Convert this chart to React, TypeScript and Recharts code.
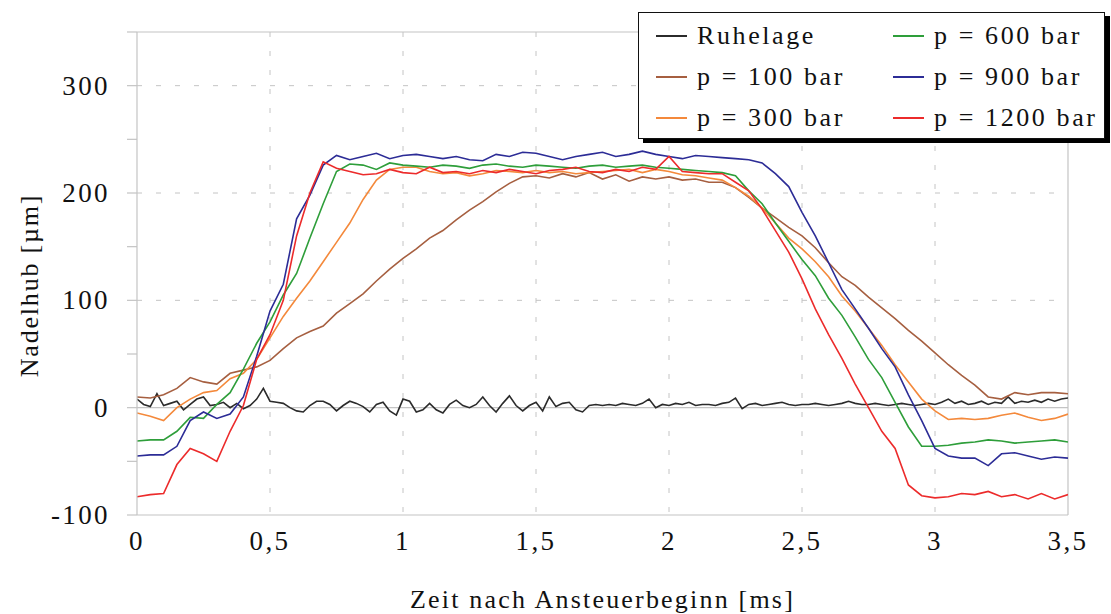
import React from 'react';
import { LineChart, Line, XAxis, YAxis, CartesianGrid, ReferenceLine, Legend } from 'recharts';

const FONT = '"Liberation Serif", "Times New Roman", serif';

// time axis in ms, 0.05 ms steps for the pressure runs
const time = [
  0, 0.05, 0.1, 0.15, 0.2, 0.25, 0.3, 0.35, 0.4, 0.45,
  0.5, 0.55, 0.6, 0.65, 0.7, 0.75, 0.8, 0.85, 0.9, 0.95,
  1, 1.05, 1.1, 1.15, 1.2, 1.25, 1.3, 1.35, 1.4, 1.45,
  1.5, 1.55, 1.6, 1.65, 1.7, 1.75, 1.8, 1.85, 1.9, 1.95,
  2, 2.05, 2.1, 2.15, 2.2, 2.25, 2.3, 2.35, 2.4, 2.45,
  2.5, 2.55, 2.6, 2.65, 2.7, 2.75, 2.8, 2.85, 2.9, 2.95,
  3, 3.05, 3.1, 3.15, 3.2, 3.25, 3.3, 3.35, 3.4, 3.45,
  3.5,
];

// finer sampling for the rest position signal
const restTime = [
  0, 0.025, 0.05, 0.075, 0.1, 0.125, 0.15, 0.175, 0.2, 0.225, 0.25, 0.275, 0.3, 0.325, 0.35, 0.375, 0.4, 0.425, 0.45, 0.475,
  0.5, 0.525, 0.55, 0.575, 0.6, 0.625, 0.65, 0.675, 0.7, 0.725, 0.75, 0.775, 0.8, 0.825, 0.85, 0.875, 0.9, 0.925, 0.95, 0.975,
  1, 1.025, 1.05, 1.075, 1.1, 1.125, 1.15, 1.175, 1.2, 1.225, 1.25, 1.275, 1.3, 1.325, 1.35, 1.375, 1.4, 1.425, 1.45, 1.475,
  1.5, 1.525, 1.55, 1.575, 1.6, 1.625, 1.65, 1.675, 1.7, 1.725, 1.75, 1.775, 1.8, 1.825, 1.85, 1.875, 1.9, 1.925, 1.95, 1.975,
  2, 2.025, 2.05, 2.075, 2.1, 2.125, 2.15, 2.175, 2.2, 2.225, 2.25, 2.275, 2.3, 2.325, 2.35, 2.375, 2.4, 2.425, 2.45, 2.475,
  2.5, 2.525, 2.55, 2.575, 2.6, 2.625, 2.65, 2.675, 2.7, 2.725, 2.75, 2.775, 2.8, 2.825, 2.85, 2.875, 2.9, 2.925, 2.95, 2.975,
  3, 3.025, 3.05, 3.075, 3.1, 3.125, 3.15, 3.175, 3.2, 3.225, 3.25, 3.275, 3.3, 3.325, 3.35, 3.375, 3.4, 3.425, 3.45, 3.475,
  3.5,
];

const ruhelage = [
  8, 3, 1, 13, 2, 4, 6, -2, 3, 8, 10, 2, 3, 5, 0, 4, -1, 2, 8, 18,
  6, 5, 4, 0, -3, -4, 2, 6, 6, 3, -3, 2, 6, 4, 1, -4, 3, 5, -3, -7,
  8, 6, -4, -2, 4, -2, -5, 3, 7, 2, 0, 3, 10, 2, -4, 4, 11, 2, -3, 2,
  5, -3, 10, 1, 4, 5, -2, -4, 2, 3, 2, 3, 2, 4, 3, 2, 4, 8, 0, 3,
  2, 4, 3, 5, 2, 3, 3, 2, 4, 5, 9, -1, 3, 4, 2, 3, 4, 5, 3, 2,
  3, 3, 4, 3, 2, 3, 4, 6, 4, 3, 3, 4, 3, 2, 3, 4, 3, 2, 3, 4,
  3, 5, 8, 4, 6, 3, 4, 6, 3, 5, 4, 10, 4, 6, 5, 7, 5, 8, 6, 8,
  9,
];

const p100 = [
  10, 9, 12, 18, 28, 24, 22, 32, 35, 38,
  44, 55, 65, 71, 76, 88, 97, 106, 118, 129,
  139, 148, 158, 165, 175, 184, 192, 201, 209, 215,
  216, 214, 218, 215, 219, 213, 217, 211, 215, 213,
  215, 212, 213, 210, 210, 205, 196, 186, 177, 168,
  160, 149, 135, 122, 114, 103, 93, 83, 72, 62,
  51, 40, 30, 21, 10, 8, 14, 12, 14, 14,
  13,
];

const p300 = [
  -5, -8, -12, 0, 8, 14, 16, 27, 32, 45,
  65, 85, 102, 118, 136, 154, 172, 194, 212, 222,
  224, 224, 220, 218, 219, 216, 218, 221, 220, 219,
  221, 219, 220, 218, 219, 220, 221, 222, 219, 222,
  220, 217, 216, 214, 212, 205, 197, 186, 172, 158,
  148, 136, 122, 104, 90, 74, 58, 40, 24, 8,
  -3, -11, -10, -11, -10, -7, -5, -9, -12, -10,
  -6,
];

const p600 = [
  -31, -30, -30, -22, -9, -10, 3, 14, 36, 60,
  80, 105, 125, 158, 190, 220, 227, 226, 222, 228,
  226, 225, 224, 226, 225, 223, 226, 227, 225, 224,
  226, 225, 224, 223, 225, 226, 224, 225, 226, 224,
  223, 222, 221, 220, 219, 216, 202, 190, 172, 155,
  138, 123, 102, 86, 66, 45, 28, 5, -18, -36,
  -36, -35, -33, -32, -30, -31, -33, -32, -31, -30,
  -32,
];

const p900 = [
  -45, -44, -44, -36, -12, -4, -10, -6, 10, 48,
  90, 115, 176, 198, 226, 235, 231, 234, 237, 232,
  235, 236, 234, 232, 234, 231, 230, 236, 234, 238,
  237, 234, 231, 234, 236, 238, 234, 236, 239, 236,
  234, 232, 235, 234, 233, 232, 231, 228, 218, 206,
  182, 160, 135, 110, 92, 74, 55, 38, 12, -12,
  -38, -45, -47, -47, -54, -43, -42, -45, -48, -46,
  -47,
];

const p1200 = [
  -83, -81, -80, -53, -38, -43, -50, -22, 2, 45,
  68, 100, 160, 200, 229, 223, 220, 217, 218, 222,
  219, 218, 224, 219, 220, 218, 221, 219, 222, 220,
  218, 221, 222, 224, 220, 219, 222, 220, 224, 222,
  234, 220, 219, 218, 218, 210, 202, 185, 165, 145,
  120, 92, 68, 46, 22, 0, -22, -38, -72, -82,
  -84, -83, -80, -81, -78, -83, -81, -85, -80, -85,
  -81,
];

const yTicks = [-100, -50, 0, 50, 100, 150, 200, 250, 300, 350];
const yLabels = [-100, 0, 100, 200, 300];
const xTicks = [0, 0.5, 1, 1.5, 2, 2.5, 3, 3.5];

const toRows = (xs: number[], ys: number[]) => xs.map((t, i) => ({ t, v: ys[i] }));

const series = [
  { name: 'Ruhelage', color: '#2b2b2b', rows: toRows(restTime, ruhelage) },
  { name: 'p = 100 bar', color: '#a65f40', rows: toRows(time, p100) },
  { name: 'p = 300 bar', color: '#f4893b', rows: toRows(time, p300) },
  { name: 'p = 600 bar', color: '#2e9e3a', rows: toRows(time, p600) },
  { name: 'p = 900 bar', color: '#2c2c96', rows: toRows(time, p900) },
  { name: 'p = 1200 bar', color: '#ec2b2b', rows: toRows(time, p1200) },
];

const AXIS_GREY = '#c4c4c4';
const textStyle = { fontFamily: FONT, fontSize: 27, letterSpacing: 2.4, fill: '#111' };

const YTick = ({ x, y, payload }: any) => {
  if (!yLabels.includes(payload.value)) return <g />;
  return (
    <text x={x} y={y} dy={9} textAnchor="end" style={textStyle}>
      {payload.value}
    </text>
  );
};

const XTick = ({ x, y, payload }: any) => (
  <text x={x} y={y + 35} textAnchor="middle" style={textStyle}>
    {String(payload.value).replace('.', ',')}
  </text>
);

const YTitle = ({ viewBox }: any) => {
  const cx = viewBox.x + 29;
  const cy = viewBox.y + viewBox.height / 2 + 12;
  return (
    <text
      x={cx}
      y={cy}
      transform={`rotate(-90 ${cx} ${cy})`}
      textAnchor="middle"
      dominantBaseline="central"
      style={{ ...textStyle, fontSize: 26, letterSpacing: 1.8 }}
    >
      Nadelhub [µm]
    </text>
  );
};

const XTitle = ({ viewBox }: any) => (
  <text
    x={viewBox.x + viewBox.width / 2}
    y={viewBox.y + 93}
    textAnchor="middle"
    style={{ ...textStyle, fontSize: 26, letterSpacing: 2.2 }}
  >
    Zeit nach Ansteuerbeginn [ms]
  </text>
);

// boxed legend, two columns of three, with a hard drop shadow
const renderLegend = () => (
  <div
    style={{
      position: 'relative',
      width: 467,
      height: 127,
      boxSizing: 'border-box',
      border: '1.5px solid #111',
      boxShadow: '5px 4px 0 #000',
      background: '#fff',
      fontFamily: FONT,
      fontSize: 26,
      letterSpacing: 2.6,
      color: '#111',
    }}
  >
    {series.map((s, i) => (
      <div
        key={s.name}
        style={{
          position: 'absolute',
          left: Math.floor(i / 3) * 237 + 17,
          top: (i % 3) * 41 + 2,
          height: 41,
          display: 'flex',
          alignItems: 'center',
          whiteSpace: 'nowrap',
        }}
      >
        <svg width={31} height={4} style={{ marginRight: 10 }}>
          <line x1={0} y1={2} x2={31} y2={2} stroke={s.color} strokeWidth={2} />
        </svg>
        <span>{s.name}</span>
      </div>
    ))}
  </div>
);

export default function App() {
  return (
    <div style={{ position: 'absolute', left: 0, top: 0 }}>
      <LineChart width={1111} height={614} margin={{ top: 32, right: 43, bottom: 0, left: 0 }}>
        <CartesianGrid
          horizontal
          vertical
          horizontalValues={[100, 200, 300]}
          verticalValues={[0.5, 1, 1.5, 2, 2.5, 3]}
          stroke={AXIS_GREY}
          strokeDasharray="5 14"
        />
        <XAxis
          dataKey="t"
          type="number"
          domain={[0, 3.5]}
          ticks={xTicks}
          allowDataOverflow
          axisLine={{ stroke: AXIS_GREY, strokeWidth: 1.2 }}
          tickLine={false}
          tickSize={0}
          tickMargin={0}
          tick={<XTick />}
          height={99}
          label={{ content: <XTitle /> }}
        />
        <YAxis
          type="number"
          domain={[-100, 350]}
          ticks={yTicks}
          allowDataOverflow
          width={137}
          axisLine={{ stroke: AXIS_GREY, strokeWidth: 1.2 }}
          tickLine={{ stroke: AXIS_GREY, strokeWidth: 1.2 }}
          tickSize={10}
          tickMargin={17}
          tick={<YTick />}
          label={{ content: <YTitle /> }}
        />
        <ReferenceLine y={0} stroke={AXIS_GREY} strokeWidth={1.2} />
        <ReferenceLine y={350} stroke={AXIS_GREY} strokeWidth={1.2} />
        <ReferenceLine x={3.5} stroke={AXIS_GREY} strokeWidth={1.2} />
        {series.map((s) => (
          <Line
            key={s.name}
            data={s.rows}
            dataKey="v"
            name={s.name}
            type="linear"
            stroke={s.color}
            strokeWidth={1.6}
            dot={false}
            activeDot={false}
            isAnimationActive={false}
          />
        ))}
        <Legend
          layout="vertical"
          align="center"
          verticalAlign="middle"
          content={renderLegend}
          wrapperStyle={{ left: 638, top: 12, width: 472, height: 132 }}
        />
      </LineChart>
    </div>
  );
}
